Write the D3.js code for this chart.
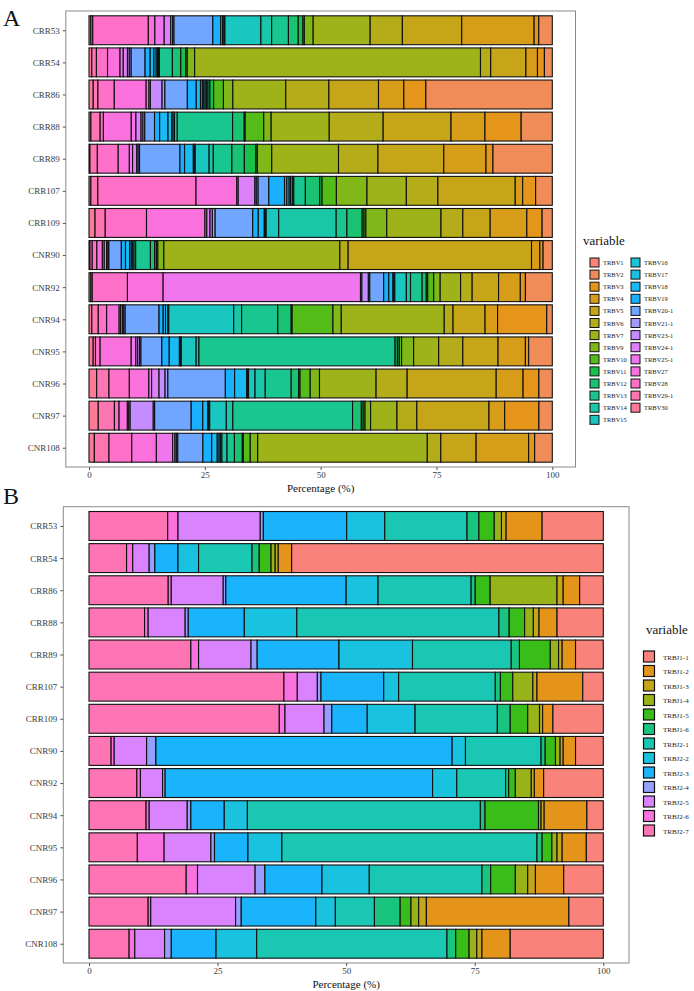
<!DOCTYPE html>
<html><head><meta charset="utf-8">
<script src="https://cdn.jsdelivr.net/npm/d3@7"></script>
<style>body{margin:0;background:#fff} text{font-family:"Liberation Serif","Times New Roman",serif}</style>
</head><body><svg id="c" width="694" height="991" xmlns="http://www.w3.org/2000/svg"></svg>
<script>
const samples = ["CRR53","CRR54","CRR86","CRR88","CRR89","CRR107","CRR109","CNR90","CNR92","CNR94","CNR95","CNR96","CNR97","CNR108"];
const tickValues = [0, 0.25, 0.5, 0.75, 1];
const tickLabels = ["0","25","50","75","100"];

// Panel A: TRBV genes (legend order) and stack order (left to right)
const trbvGenes = ["TRBV1","TRBV2","TRBV3","TRBV4","TRBV5","TRBV6","TRBV7","TRBV9","TRBV10","TRBV11","TRBV12","TRBV13","TRBV14","TRBV15","TRBV16","TRBV17","TRBV18","TRBV19","TRBV20-1","TRBV21-1","TRBV23-1","TRBV24-1","TRBV25-1","TRBV27","TRBV28","TRBV29-1","TRBV30"];
const trbvStackOrder = ["TRBV30","TRBV29-1","TRBV28","TRBV27","TRBV25-1","TRBV24-1","TRBV23-1","TRBV21-1","TRBV20-1","TRBV19","TRBV18","TRBV17","TRBV16","TRBV15","TRBV14","TRBV13","TRBV12","TRBV11","TRBV10","TRBV9","TRBV7","TRBV6","TRBV5","TRBV4","TRBV3","TRBV2","TRBV1"];
// values (%) in trbvStackOrder
const vCRR53  = [0.4,0.4,11.9,1.4,2.0,1.4,0.4,0.3,8.3,1.7,0.4,0.3,0.2,7.7,2.3,3.6,2.1,1.0,0.3,1.9,12.2,6.9,12.7,15.5,1.0,2.9,0];
const vCRR54  = [0.6,1.0,2.4,2.7,0.7,0.9,0.4,0.4,3.0,1.1,0.8,0.5,0.3,0.2,0.2,2.8,1.8,1.1,0.3,1.6,61.7,2.2,7.6,2.5,1.5,1.7,0];
const vCRR86  = [0.9,1.0,3.5,6.8,0.6,0.3,2.5,0.6,4.8,1.9,0.9,0.4,0.3,0.3,0.3,0.3,0.4,0.8,2.1,2.0,11.3,9.2,10.6,5.4,4.7,27.0,0];
const vCRR88  = [0.4,2.0,0.7,6.0,1.0,1.1,0.4,0.4,2.1,1.1,1.8,0.8,0.3,0.3,0.6,11.9,2.5,0.2,4.0,1.6,12.5,11.6,14.6,7.3,7.8,6.7,0];
const vCRR89  = [0.2,1.6,4.5,2.4,0.7,0.9,0.3,0.3,8.7,1.0,1.9,0.2,0.2,3.0,0.9,4.0,2.7,2.5,0.3,3.1,14.4,8.5,14.2,9.1,1.5,12.8,0];
const vCRR107 = [0.4,1.5,21.2,8.8,0.3,3.6,0.3,0.4,2.3,3.4,0.5,0.5,0.3,0.4,0.3,2.5,3.1,0.5,3.1,6.6,8.5,6.8,16.7,1.6,2.8,3.6,0];
const vCRR109 = [1.3,2.2,8.9,12.6,0.4,0.7,0.5,0.6,8.1,1.2,1.3,0.2,0.2,2.7,12.4,2.3,3.3,0.4,0.4,4.5,11.7,4.7,5.9,7.9,3.3,2.2,0];
const vCNR90  = [0.2,0.5,1.0,1.2,0.4,0.5,0.3,0.2,2.7,0.9,0.9,0.35,0.3,0.3,0.35,3.2,0.9,0.4,0.3,1.3,38.1,1.8,39.7,1.8,0.7,2.0,0];
const vCNR92  = [0.4,0.3,7.6,7.7,42.6,0.3,1.4,0.3,3.0,1.1,0.9,0.2,0.2,2.5,0.9,2.5,0.9,0.3,1.3,1.4,4.4,2.5,5.7,4.7,1.1,5.8,0];
const vCNR94  = [0.6,1.4,1.8,2.7,0.3,0.4,0.3,0.3,7.3,0.9,0.5,0.5,0.2,14.0,1.7,7.8,2.9,0.2,8.8,1.8,22.2,1.9,6.9,2.7,10.6,1.2,0];
const vCNR95  = [0.9,0.5,1.0,6.7,1.0,0.4,0.4,0.3,4.5,1.6,2.2,0.2,0.2,3.2,0.6,42.3,0.5,0.4,0.5,2.6,5.4,5.2,7.6,5.9,0.7,5.1,0];
const vCNR96  = [1.65,2.65,4.4,4.2,0.6,1.6,1.3,0.6,12.4,2.0,2.6,0.2,0.2,1.4,2.2,5.6,1.6,0.3,2.2,2.0,12.2,6.7,19.2,5.8,3.4,2.9,0];
const vCNR97  = [2.0,3.5,1.0,1.8,0.3,0.3,5.0,0.3,7.9,2.5,1.1,0.2,0.2,3.6,1.4,25.9,1.9,0.4,0.4,1.2,5.7,4.3,15.6,3.4,7.4,2.9,0];
const vCNR108 = [1.15,3.15,4.9,5.3,3.5,0.5,0.3,0.3,5.4,1.9,1.2,0.4,0.3,0.3,1.1,1.6,1.7,0.2,1.5,1.6,36.5,2.9,7.6,11.3,1.3,3.8,0];
const trbvRows = [vCRR53,vCRR54,vCRR86,vCRR88,vCRR89,vCRR107,vCRR109,vCNR90,vCNR92,vCNR94,vCNR95,vCNR96,vCNR97,vCNR108];

// Panel B: TRBJ genes
const trbjGenes = ["TRBJ1-1","TRBJ1-2","TRBJ1-3","TRBJ1-4","TRBJ1-5","TRBJ1-6","TRBJ2-1","TRBJ2-2","TRBJ2-3","TRBJ2-4","TRBJ2-5","TRBJ2-6","TRBJ2-7"];
const trbjStackOrder = ["TRBJ2-7","TRBJ2-6","TRBJ2-5","TRBJ2-4","TRBJ2-3","TRBJ2-2","TRBJ2-1","TRBJ1-6","TRBJ1-5","TRBJ1-4","TRBJ1-3","TRBJ1-2","TRBJ1-1"];
const jCRR53  = [15.3,2.0,16.0,0.6,16.2,7.4,16.0,2.3,3.0,1.4,0.9,7.0,11.9];
const jCRR54  = [7.3,1.2,3.2,1.1,4.5,4.0,10.4,1.4,2.3,0.8,0.6,2.6,60.6];
const jCRR86  = [15.4,0.6,10.1,0.5,23.4,6.2,18.1,0.8,2.9,13.0,1.2,3.2,4.6];
const jCRR88  = [10.8,0.7,7.2,0.6,10.9,10.2,39.3,2.0,3.0,1.7,1.1,3.5,9.0];
const jCRR89  = [19.8,1.5,10.2,1.2,15.9,14.3,19.2,1.6,6.0,1.6,0.7,2.6,5.4];
const jCRR107 = [37.9,2.6,3.9,0.7,12.2,2.9,18.8,1.0,2.4,3.9,0.8,8.9,4.0];
const jCRR109 = [37.0,1.1,7.6,1.5,6.9,9.3,16.0,2.5,3.4,2.3,0.6,2.0,9.8];
const jCNR90  = [4.3,0.6,6.3,1.8,57.6,2.6,14.7,0.8,2.0,0.9,0.6,2.4,5.4];
const jCNR92  = [9.3,0.7,4.3,0.5,52.0,4.7,9.5,0.6,1.3,3.1,0.6,1.8,11.6];
const jCNR94  = [11.1,0.6,7.4,0.7,6.5,4.5,45.3,0.9,10.4,0.5,0.6,8.3,3.2];
const jCNR95  = [9.4,5.2,9.1,0.7,6.5,6.6,49.6,1.0,1.9,1.0,1.0,4.7,3.3];
const jCNR96  = [18.9,2.2,11.2,1.9,11.1,9.2,21.9,1.7,4.8,2.4,1.5,5.5,7.7];
const jCNR97  = [11.5,0.5,16.5,1.1,14.5,3.8,7.6,5.0,2.1,1.5,1.5,27.7,6.7];
const jCNR108 = [7.8,1.1,5.8,1.3,8.7,7.9,37.0,1.7,2.6,1.5,1.0,5.5,18.1];
const trbjRows = [jCRR53,jCRR54,jCRR86,jCRR88,jCRR89,jCRR107,jCRR109,jCNR90,jCNR92,jCNR94,jCNR95,jCNR96,jCNR97,jCNR108];

// ggplot-like hue palette (polar LUV)
function hclLuv(h, c, l) {
  const Xn = 95.047, Yn = 100.0, Zn = 108.883;
  const un = 4*Xn/(Xn+15*Yn+3*Zn), vn = 9*Yn/(Xn+15*Yn+3*Zn);
  const hr = h*Math.PI/180, U = c*Math.cos(hr), V = c*Math.sin(hr);
  const Y = Yn * (l > 7.999592 ? Math.pow((l+16)/116, 3) : l/903.3);
  const u = U/(13*l) + un, v = V/(13*l) + vn;
  const X = 9*Y*u/(4*v), Z = -X/3 - 5*Y + 3*Y/v;
  const gam = t => t > 0.00304 ? 1.055*Math.pow(t, 1/2.4) - 0.055 : 12.92*t;
  const cl = t => Math.round(255*Math.max(0, Math.min(1, t)));
  return d3.rgb(cl(gam((3.240479*X - 1.537150*Y - 0.498535*Z)/Yn)),
                cl(gam((-0.969256*X + 1.875992*Y + 0.041556*Z)/Yn)),
                cl(gam((0.055648*X - 0.204043*Y + 1.057311*Z)/Yn))).formatHex();
}
const huePal = n => d3.range(n).map(i => hclLuv(15 + i*360/n, 100, 65));

const svg = d3.select("#c");
svg.append("rect").attr("width",694).attr("height",991).attr("fill","#fff");

function panel(cfg) {
  const {genes, stackOrder, rows, top, bottom, left, right, x0, x100} = cfg;
  const color = d3.scaleOrdinal(genes, huePal(genes.length));
  const x = d3.scaleLinear([0,1],[x0,x100]);
  const y = d3.scalePoint(samples,[top,bottom]).padding(0.6);
  const bw = y.step()*0.9;
  const table = samples.map((s,i) => { const o = {sample:s}; stackOrder.forEach((g,j)=>o[g]=rows[i][j]); return o; });
  const series = d3.stack().keys(stackOrder).offset(d3.stackOffsetExpand)(table);
  svg.append("rect").attr("x",left).attr("y",top).attr("width",right-left).attr("height",bottom-top)
    .attr("fill","none").attr("stroke","#8a8a8a").attr("stroke-width",1);
  const g = svg.append("g");
  series.forEach(sr => {
    g.selectAll(null).data(sr).join("rect")
      .attr("x", d => x(d[0])).attr("width", d => Math.max(0, x(d[1]) - x(d[0])))
      .attr("y", d => y(d.data.sample) - bw/2).attr("height", bw)
      .attr("fill", color(sr.key)).attr("fill-opacity", 0.9)
      .attr("stroke", "#111").attr("stroke-width", 1.1);
  });
  const ax = svg.append("g").attr("transform",`translate(0,${bottom})`)
    .call(d3.axisBottom(x).tickValues(tickValues).tickFormat((d,i)=>tickLabels[i]).tickSize(3).tickPadding(2));
  const ay = svg.append("g").attr("transform",`translate(${left},0)`)
    .call(d3.axisLeft(y).tickSize(3).tickPadding(3));
  [ax, ay].forEach(a => {
    a.select(".domain").remove();
    a.selectAll(".tick line").attr("stroke","#555");
    a.selectAll(".tick text").attr("fill","#3a3a3a").style("font-size","9px").style("font-family","Liberation Serif");
  });
  svg.append("text").attr("x",(left+right)/2).attr("y",bottom+25).attr("text-anchor","middle")
    .style("font-size","11px").attr("fill","#111").text("Percentage (%)");
  return color;
}

const colA = panel({genes:trbvGenes, stackOrder:trbvStackOrder, rows:trbvRows, top:11, bottom:467, left:65.8, right:575.5, x0:89, x100:552.3});
const colB = panel({genes:trbjGenes, stackOrder:trbjStackOrder, rows:trbjRows, top:506.7, bottom:963, left:63.3, right:629, x0:89, x100:603.3});

// panel tags
svg.append("text").attr("x",3).attr("y",26).style("font-size","24px").attr("fill","#111").text("A");
svg.append("text").attr("x",3).attr("y",504).style("font-size","24px").attr("fill","#111").text("B");

// Legend A (two columns)
const legA = svg.append("g");
legA.append("text").attr("x",583).attr("y",245).style("font-size","13px").attr("fill","#111").text("variable");
trbvGenes.forEach((gname,i) => {
  const col = i < 14 ? 0 : 1, row = i < 14 ? i : i-14;
  const kx = 590 + col*41, ky = 258 + row*12.1;
  legA.append("rect").attr("x",kx).attr("y",ky).attr("width",9).attr("height",9)
    .attr("fill",colA(gname)).attr("fill-opacity",0.9).attr("stroke","#111").attr("stroke-width",1);
  legA.append("text").attr("x",kx+13).attr("y",ky+7).style("font-size","6.5px").attr("fill","#222").text(gname);
});
// Legend B
const legB = svg.append("g");
legB.append("text").attr("x",646).attr("y",634).style("font-size","13px").attr("fill","#111").text("variable");
trbjGenes.forEach((gname,i) => {
  const ky = 651 + i*14.5;
  legB.append("rect").attr("x",643.5).attr("y",ky).attr("width",11).attr("height",11)
    .attr("fill",colB(gname)).attr("fill-opacity",0.9).attr("stroke","#111").attr("stroke-width",1.2);
  legB.append("text").attr("x",663).attr("y",ky+8.5).style("font-size","7px").attr("fill","#222").text(gname);
});
</script></body></html>
